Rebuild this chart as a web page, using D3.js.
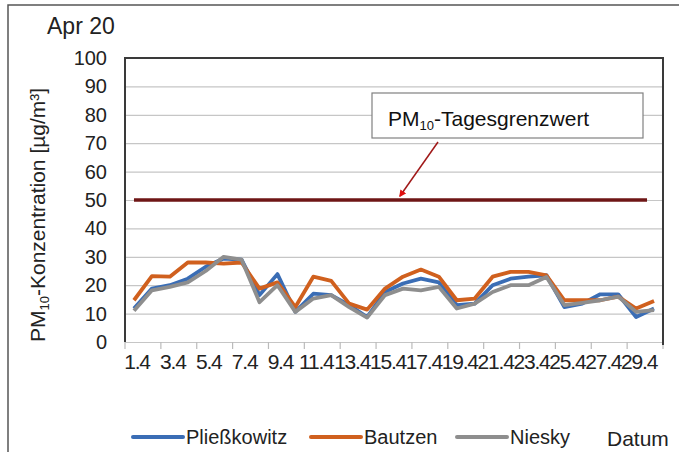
<!DOCTYPE html>
<html>
<head>
<meta charset="utf-8">
<script src="https://cdn.jsdelivr.net/npm/d3@7"></script>
<style>
  body { margin: 0; background: #fff; }
  svg { font-family: "Liberation Sans", Arial, sans-serif; }
</style>
</head>
<body>
<svg id="chart" width="679" height="452"></svg>
<script>
// days of april 2020
var days = ["1.4","2.4","3.4","4.4","5.4","6.4","7.4","8.4","9.4","10.4",
            "11.4","12.4","13.4","14.4","15.4","16.4","17.4","18.4","19.4","20.4",
            "21.4","22.4","23.4","24.4","25.4","26.4","27.4","28.4","29.4","30.4"];
var pliesskowitz = [11.8, 18.8, 20, 22.3, 26.5, 29.4, 29, 16.5, 23.9, 10.6,
                    17, 16.5, 13, 8.8, 17.6, 20.6, 22.3, 21, 13, 13.5,
                    20, 22.3, 23, 23.5, 12.3, 13.5, 16.8, 16.8, 8.8, 11.8];
var bautzen = [14.7, 23.2, 23, 28, 28, 27.6, 28, 18.8, 21, 12.3,
               23, 21.5, 13.5, 11.4, 18.8, 23, 25.5, 23, 14.7, 15.3,
               23, 24.7, 24.7, 23.5, 14.7, 14.7, 14.7, 16, 11.8, 14.4];
var niesky = [11, 18.2, 19.4, 21, 25, 30, 29, 14, 20, 10.6,
              15.3, 16.5, 12.3, 8.6, 16.5, 18.8, 18.2, 19.4, 11.8, 13.5,
              17.6, 20, 20, 22.9, 13, 13.8, 14.7, 16, 10.6, 11.2];
var seriesNames = ["Pließkowitz", "Bautzen", "Niesky"];
var yTicks = [0, 10, 20, 30, 40, 50, 60, 70, 80, 90, 100];
var limitValue = 50;

var colors = ["#3a6db5", "#d0601e", "#8e8e8e"];
var margin = {top: 58, right: 16, bottom: 110, left: 125};
var width = 679 - margin.left - margin.right;
var height = 452 - margin.top - margin.bottom;

var svg = d3.select("#chart");

// outer frame (left and top only visible)
svg.append("path")
   .attr("d", "M8,452 L8,5 L679,5")
   .attr("fill", "none")
   .attr("stroke", "#555")
   .attr("stroke-width", 1.5);

svg.append("text")
   .attr("x", 47).attr("y", 34)
   .attr("font-size", 23).attr("fill", "#222")
   .text("Apr 20");

var g = svg.append("g")
   .attr("transform", "translate(" + margin.left + "," + margin.top + ")");

var x = d3.scaleBand().domain(days).range([0, width]).padding(0);
var y = d3.scaleLinear().domain([0, 100]).range([height, 0]);

// grid
g.append("g")
   .attr("class", "grid")
   .call(d3.axisLeft(y).tickValues(yTicks).tickSize(-width).tickFormat(""))
   .call(function(s) {
       s.select(".domain").remove();
       s.selectAll("line").attr("stroke", "#c6c6c6").attr("stroke-width", 1.2);
   });

// y labels
g.append("g")
   .call(d3.axisLeft(y).tickValues(yTicks).tickSize(0).tickPadding(18))
   .call(function(s) {
       s.select(".domain").remove();
       s.selectAll("text").attr("font-size", 20).attr("fill", "#222")
        .attr("font-family", "Liberation Sans, Arial, sans-serif");
   });

// x ticks at every second category boundary
var tickPos = days.filter(function(d, i) { return i % 2 == 0; })
                  .map(function(d) { return x(d); });
tickPos.push(width);
g.selectAll(".xtick")
   .data(tickPos)
   .enter().append("line")
   .attr("x1", function(d) { return d; }).attr("x2", function(d) { return d; })
   .attr("y1", height).attr("y2", height + 7)
   .attr("stroke", "#bbb").attr("stroke-width", 1.2);

// x labels
g.append("g")
   .attr("transform", "translate(3," + height + ")")
   .call(d3.axisBottom(x).tickValues(days.filter(function(d, i) { return i % 2 == 0; }))
         .tickSize(0).tickPadding(12))
   .call(function(s) {
       s.select(".domain").remove();
       s.selectAll("text").attr("font-size", 21).attr("fill", "#222")
        .attr("font-family", "Liberation Sans, Arial, sans-serif")
        .attr("letter-spacing", -1.2);
   });

// plot frame
g.append("path")
   .attr("d", "M0," + height + " L0,0 L" + width + ",0 L" + width + "," + (height + 3))
   .attr("fill", "none").attr("stroke", "#3a3a3a").attr("stroke-width", 2);

// limit line
g.append("line")
   .attr("x1", x(days[0]) + x.bandwidth() / 2)
   .attr("x2", x(days[days.length - 1]) + x.bandwidth() / 2 - 7)
   .attr("y1", y(limitValue)).attr("y2", y(limitValue))
   .attr("stroke", "#6e1616").attr("stroke-width", 3.5);

// series
var line = d3.line()
   .x(function(d, i) { return x(days[i]) + x.bandwidth() / 2; })
   .y(function(d) { return y(d); });

[pliesskowitz, bautzen, niesky].forEach(function(values, k) {
    g.append("path")
       .datum(values)
       .attr("d", line)
       .attr("fill", "none")
       .attr("stroke", colors[k])
       .attr("stroke-width", 3.8)
       .attr("stroke-linejoin", "round");
});

// annotation
svg.append("defs").append("marker")
   .attr("id", "arrow")
   .attr("viewBox", "0 0 10 10")
   .attr("refX", 8).attr("refY", 5)
   .attr("markerWidth", 7).attr("markerHeight", 7)
   .attr("markerUnits", "userSpaceOnUse")
   .attr("orient", "auto")
   .append("path").attr("d", "M0,0 L10,5 L0,10 z").attr("fill", "#e01010");

svg.append("rect")
   .attr("x", 372).attr("y", 93).attr("width", 271).attr("height", 45)
   .attr("fill", "#fff").attr("stroke", "#808080").attr("stroke-width", 1.2);

var ann = svg.append("text")
   .attr("x", 388).attr("y", 126)
   .attr("font-size", 21).attr("fill", "#111");
ann.append("tspan").text("PM");
ann.append("tspan").attr("font-size", 13).attr("dy", 4).text("10");
ann.append("tspan").attr("dy", -4).text("-Tagesgrenzwert");

svg.append("line")
   .attr("x1", 438).attr("y1", 142)
   .attr("x2", 400).attr("y2", 196)
   .attr("stroke", "#a01818").attr("stroke-width", 1.5)
   .attr("marker-end", "url(#arrow)");

// y axis title
var yt = svg.append("text")
   .attr("transform", "translate(45," + (margin.top + height) + ") rotate(-90)")
   .attr("font-size", 21).attr("fill", "#222");
yt.append("tspan").text("PM");
yt.append("tspan").attr("font-size", 13).attr("dy", 4).text("10");
yt.append("tspan").attr("dy", -4).text("-Konzentration [µg/m³]");

// legend
var legendX = [133, 311, 457];
seriesNames.forEach(function(name, k) {
    svg.append("line")
       .attr("x1", legendX[k]).attr("x2", legendX[k] + 50)
       .attr("y1", 437).attr("y2", 437)
       .attr("stroke", colors[k]).attr("stroke-width", 4)
       .attr("stroke-linecap", "round");
    svg.append("text")
       .attr("x", legendX[k] + 53).attr("y", 444)
       .attr("font-size", 20).attr("fill", "#222")
       .text(name);
});

svg.append("text")
   .attr("x", 607).attr("y", 446)
   .attr("font-size", 21).attr("fill", "#222")
   .text("Datum");
</script>
</body>
</html>
